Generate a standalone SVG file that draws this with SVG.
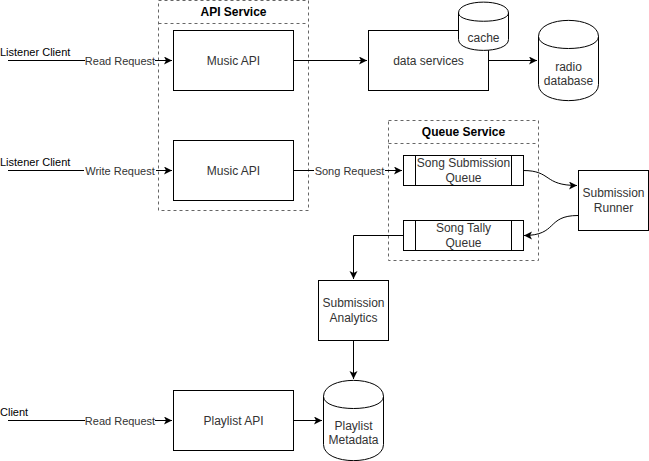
<svg xmlns="http://www.w3.org/2000/svg" width="649" height="461" viewBox="0 0 649 461">
<defs>
<style>
.grp{fill:none;stroke:#666666;stroke-dasharray:3,3;stroke-width:1}
.box{fill:#ffffff;stroke:#000000;stroke-width:1}
.ln{fill:none;stroke:#000000;stroke-width:1}
.t{font-family:"Liberation Sans",Arial,Helvetica,sans-serif;font-size:12px;fill:#333333;text-anchor:middle}
.title{font-family:"Liberation Sans",Arial,Helvetica,sans-serif;font-size:12px;font-weight:bold;fill:#000000;text-anchor:middle}
.lbl{font-family:"Liberation Sans",Arial,Helvetica,sans-serif;font-size:11px;fill:#333333;text-anchor:middle}
.src{font-family:"Liberation Sans",Arial,Helvetica,sans-serif;font-size:11px;fill:#000000}
.bg{fill:#ffffff;stroke:none}
</style>
<marker id="arr" markerUnits="userSpaceOnUse" markerWidth="10" markerHeight="10" refX="8" refY="4" orient="auto">
<path d="M0,0 L8,4 L0,8 L2,4 Z" fill="#000000" stroke="none"/>
</marker>
</defs>

<g id="api-service">
<rect class="grp" x="158.5" y="0.5" width="150" height="210"/>
<line class="grp" x1="158.5" y1="23.5" x2="308.5" y2="23.5"/>
<text class="title" x="233.5" y="16">API Service</text>
</g>
<g id="queue-service">
<rect class="grp" x="388.5" y="120.5" width="150" height="140"/>
<line class="grp" x1="388.5" y1="143.5" x2="538.5" y2="143.5"/>
<text class="title" x="463.5" y="136">Queue Service</text>
</g>

<g id="connectors">
<path class="ln" d="M8,60.5 L172,60.5" marker-end="url(#arr)"/>
<rect class="bg" x="85" y="53" width="70" height="14"/>
<text class="lbl" x="120" y="64.5">Read Request</text>
<text class="src" x="0" y="56">Listener Client</text>

<path class="ln" d="M293,60.5 L367,60.5" marker-end="url(#arr)"/>
<path class="ln" d="M488,60.5 L537,60.5" marker-end="url(#arr)"/>

<path class="ln" d="M8,170.5 L172,170.5" marker-end="url(#arr)"/>
<rect class="bg" x="84" y="163" width="72" height="14"/>
<text class="lbl" x="120" y="174.5">Write Request</text>
<text class="src" x="0" y="166">Listener Client</text>

<path class="ln" d="M293,170.5 L402,170.5" marker-end="url(#arr)"/>
<rect class="bg" x="314" y="163" width="71" height="14"/>
<text class="lbl" x="349.5" y="174.5">Song Request</text>

<path class="ln" d="M523,170.5 C552,170.5 543,185.5 577,185.5" marker-end="url(#arr)"/>
<path class="ln" d="M578,215.5 C546,215.5 558,235.5 524,235.5" marker-end="url(#arr)"/>

<path class="ln" d="M403,235.5 L353.5,235.5 L353.5,279" marker-end="url(#arr)"/>
<path class="ln" d="M353.5,340 L353.5,379" marker-end="url(#arr)"/>

<path class="ln" d="M8,420.5 L172,420.5" marker-end="url(#arr)"/>
<rect class="bg" x="85" y="413" width="70" height="14"/>
<text class="lbl" x="120" y="424.5">Read Request</text>
<text class="src" x="0" y="416">Client</text>

<path class="ln" d="M293,420.5 L322,420.5" marker-end="url(#arr)"/>
</g>

<g id="music-api-read">
<rect class="box" x="173.5" y="30.5" width="120" height="60"/>
<text class="t" x="233.5" y="64.5">Music API</text>
</g>
<g id="music-api-write">
<rect class="box" x="173.5" y="140.5" width="120" height="60"/>
<text class="t" x="233.5" y="174.5">Music API</text>
</g>
<g id="data-services">
<rect class="box" x="368.5" y="30.5" width="120" height="60"/>
<text class="t" x="428.5" y="64.5">data services</text>
</g>
<g id="cache">
<path class="box" d="M458.5,13 C458.5,-1.5 508.5,-1.5 508.5,13 L508.5,39.5 C508.5,54 458.5,54 458.5,39.5 Z"/>
<path class="ln" d="M458.5,13 C458.5,24 508.5,24 508.5,13"/>
<text class="t" x="483.5" y="42">cache</text>
</g>
<g id="radio-database">
<path class="box" d="M538.5,36.5 C538.5,15 598.5,15 598.5,36.5 L598.5,84.5 C598.5,106 538.5,106 538.5,84.5 Z"/>
<path class="ln" d="M538.5,36.5 C538.5,52.5 598.5,52.5 598.5,36.5"/>
<text class="t" x="568.5" y="70.5">radio</text>
<text class="t" x="568.5" y="85">database</text>
</g>
<g id="song-submission-queue">
<rect class="box" x="403.5" y="155.5" width="120" height="30"/>
<line class="ln" x1="415.5" y1="155.5" x2="415.5" y2="185.5"/>
<line class="ln" x1="511.5" y1="155.5" x2="511.5" y2="185.5"/>
<text class="t" x="463.5" y="167">Song Submission</text>
<text class="t" x="463.5" y="182">Queue</text>
</g>
<g id="song-tally-queue">
<rect class="box" x="403.5" y="220.5" width="120" height="30"/>
<line class="ln" x1="415.5" y1="220.5" x2="415.5" y2="250.5"/>
<line class="ln" x1="511.5" y1="220.5" x2="511.5" y2="250.5"/>
<text class="t" x="463.5" y="232">Song Tally</text>
<text class="t" x="463.5" y="247">Queue</text>
</g>
<g id="submission-runner">
<rect class="box" x="578.5" y="170.5" width="70" height="60"/>
<text class="t" x="613.5" y="197">Submission</text>
<text class="t" x="613.5" y="212">Runner</text>
</g>
<g id="submission-analytics">
<rect class="box" x="318.5" y="280.5" width="70" height="60"/>
<text class="t" x="353.5" y="307">Submission</text>
<text class="t" x="353.5" y="322">Analytics</text>
</g>
<g id="playlist-api">
<rect class="box" x="173.5" y="390.5" width="120" height="60"/>
<text class="t" x="233.5" y="424.5">Playlist API</text>
</g>
<g id="playlist-metadata">
<path class="box" d="M323.5,396.5 C323.5,375 383.5,375 383.5,396.5 L383.5,444.5 C383.5,466 323.5,466 323.5,444.5 Z"/>
<path class="ln" d="M323.5,396.5 C323.5,412.5 383.5,412.5 383.5,396.5"/>
<text class="t" x="353.5" y="429.5">Playlist</text>
<text class="t" x="353.5" y="444">Metadata</text>
</g>
</svg>
